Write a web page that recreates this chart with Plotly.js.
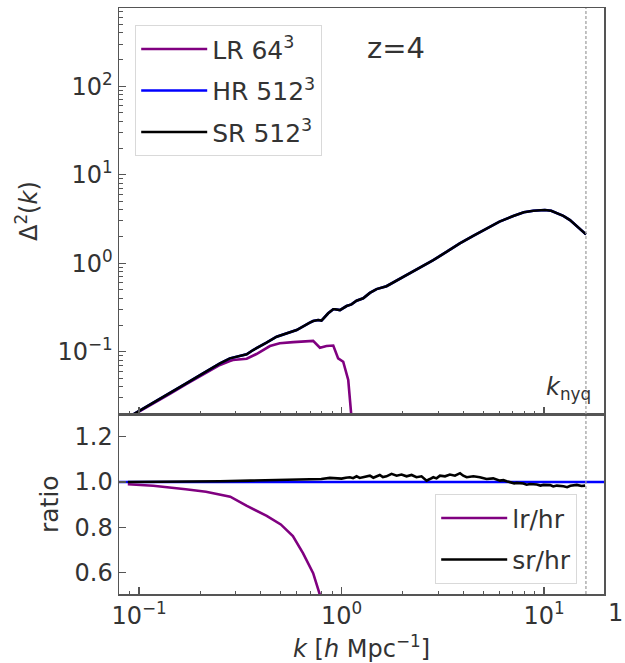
<!DOCTYPE html>
<html>
<head>
<meta charset="utf-8">
<script src="https://cdn.plot.ly/plotly-3.0.1.min.js"></script>
<style>html,body{margin:0;padding:0;background:#fff;}#chart{width:625px;height:663px;}</style>
</head>
<body>
<div id="chart"></div>
<script>
// ---------- data ----------
const kNyq = 16.1;

// top panel: Delta^2(k)
const kHR  = [0.088, 0.099, 0.1175, 0.142, 0.171, 0.207, 0.251, 0.281, 0.316, 0.340, 0.366, 0.394, 0.426, 0.478, 0.577, 0.600, 0.697, 0.724, 0.766, 0.796, 0.859, 0.910, 0.927, 0.982, 1.059, 1.119, 1.186, 1.279, 1.380, 1.489, 1.667, 1.820, 2.094, 2.455, 2.838, 3.311, 3.837, 4.467, 5.200, 6.026, 7.047, 7.943, 8.851, 10.09, 10.84, 11.53, 12.45, 13.43, 14.62, 16.11];
const d2HR = [0.0180, 0.0210, 0.0264, 0.0339, 0.0439, 0.0570, 0.0740, 0.0841, 0.0902, 0.0933, 0.1045, 0.1140, 0.1265, 0.1479, 0.1730, 0.1758, 0.2128, 0.2223, 0.2280, 0.2244, 0.2716, 0.3013, 0.3013, 0.2951, 0.3281, 0.3428, 0.3767, 0.4009, 0.4620, 0.5100, 0.5500, 0.6166, 0.7362, 0.8913, 1.086, 1.349, 1.679, 2.042, 2.477, 2.951, 3.412, 3.758, 3.917, 3.990, 3.917, 3.724, 3.428, 3.076, 2.600, 2.118];
const kSR  = kHR.slice();
const d2SR = [0.0180, 0.0210, 0.0264, 0.0339, 0.0439, 0.0570, 0.0740, 0.0841, 0.0902, 0.0933, 0.1045, 0.1140, 0.1265, 0.1479, 0.1730, 0.1758, 0.2128, 0.2223, 0.2280, 0.2244, 0.2716, 0.3013, 0.3013, 0.2951, 0.3281, 0.3428, 0.3767, 0.4009, 0.4620, 0.5100, 0.5500, 0.6166, 0.7362, 0.8913, 1.086, 1.349, 1.679, 2.042, 2.477, 2.951, 3.412, 3.758, 3.917, 3.990, 3.917, 3.724, 3.428, 3.076, 2.600, 2.118];
const kLR  = [0.088, 0.099, 0.1175, 0.142, 0.171, 0.207, 0.251, 0.281, 0.291, 0.340, 0.380, 0.443, 0.495, 0.577, 0.670, 0.724, 0.782, 0.843, 0.910, 0.962, 1.019, 1.079, 1.175];
const d2LR = [0.0178, 0.0207, 0.0260, 0.0333, 0.0429, 0.0552, 0.0708, 0.0785, 0.0805, 0.0832, 0.0942, 0.1159, 0.1245, 0.1282, 0.1318, 0.1327, 0.1109, 0.1159, 0.1175, 0.0841, 0.0771, 0.0479, 0.0050];

// bottom panel: ratios
const kLRratio = [0.088, 0.1175, 0.170, 0.214, 0.282, 0.339, 0.427, 0.501, 0.575, 0.646, 0.724, 0.782, 0.832];
const lrOverHr = [0.990, 0.983, 0.968, 0.957, 0.935, 0.895, 0.850, 0.812, 0.760, 0.684, 0.596, 0.500, 0.350];
const kSRratio = [0.088, 0.126, 0.178, 0.251, 0.355, 0.501, 0.631, 0.794, 0.875, 1.000, 1.050, 1.099, 1.140, 1.186, 1.230, 1.279, 1.330, 1.380, 1.435, 1.490, 1.545, 1.600, 1.667, 1.766, 1.871, 1.977, 2.094, 2.218, 2.344, 2.483, 2.630, 2.729, 2.838, 2.944, 3.062, 3.243, 3.428, 3.631, 3.846, 3.990, 4.150, 4.477, 4.819, 5.200, 5.610, 6.053, 6.300, 6.531, 6.918, 7.120, 7.328, 7.907, 8.200, 8.531, 9.204, 9.600, 9.931, 10.72, 11.10, 11.56, 12.47, 13.00, 13.49, 14.52, 15.31, 15.96];
const srOverHr = [1.000, 1.000, 1.001, 1.003, 1.006, 1.010, 1.012, 1.013, 1.018, 1.015, 1.019, 1.021, 1.017, 1.025, 1.018, 1.021, 1.026, 1.028, 1.019, 1.024, 1.031, 1.022, 1.025, 1.036, 1.028, 1.033, 1.025, 1.031, 1.021, 1.025, 1.006, 1.013, 1.021, 1.016, 1.028, 1.025, 1.033, 1.028, 1.039, 1.028, 1.021, 1.025, 1.021, 1.013, 1.016, 1.006, 1.008, 1.003, 0.999, 0.994, 0.996, 0.993, 0.988, 0.991, 0.989, 0.984, 0.987, 0.986, 0.980, 0.984, 0.981, 0.977, 0.983, 0.987, 0.982, 0.984];
const hrOverHr = 1.0;

// tick labels
const xTickVals = [0.1, 1, 10];
const xTickText = ['10<sup>\u22121</sup>', '10<sup>0</sup>', '10<sup>1</sup>'];
const yTickVals = [0.1, 1, 10, 100];
const yTickText = ['10<sup>\u22121</sup>', '10<sup>0</sup>', '10<sup>1</sup>', '10<sup>2</sup>'];
const rTickVals = [0.6, 0.8, 1.0, 1.2];
const rTickText = ['0.6', '0.8', '1.0', '1.2'];

// ---------- styling ----------
const FONT = 'DejaVu Sans, sans-serif';
const TXT = '#333333';
const AX = '#555555';
const LW = 2.6;
function minorLog(lo, hi) { const v = []; for (let d = lo; d <= hi; d++) for (let m = 2; m <= 9; m++) v.push(m * Math.pow(10, d)); return v; }
const xRange = [-1.099, 1.296];
const split = 180 / 586;

const traces = [
  {x: kLR, y: d2LR, xaxis: 'x', yaxis: 'y', mode: 'lines', name: 'LR 64<sup>3</sup>', line: {color: 'purple', width: LW}, legendgroup: 'a'},
  {x: kHR, y: d2HR, xaxis: 'x', yaxis: 'y', mode: 'lines', name: 'HR 512<sup>3</sup>', line: {color: 'blue', width: LW}, legendgroup: 'b'},
  {x: kSR, y: d2SR, xaxis: 'x', yaxis: 'y', mode: 'lines', name: 'SR 512<sup>3</sup>', line: {color: 'black', width: LW}, legendgroup: 'c'},
  {x: kLRratio, y: lrOverHr, xaxis: 'x2', yaxis: 'y2', mode: 'lines', name: 'lr/hr', line: {color: 'purple', width: LW}, legend: 'legend2', legendgroup: 'd'},
  {x: kSRratio, y: srOverHr, xaxis: 'x2', yaxis: 'y2', mode: 'lines', name: 'sr/hr', line: {color: 'black', width: LW}, legend: 'legend2', legendgroup: 'e'}
];

const axCommon = {showline: true, mirror: true, linecolor: AX, linewidth: 1.5, showgrid: false, zeroline: false,
  ticks: 'inside', tickcolor: AX, tickwidth: 1.2, ticklen: 7, tickfont: {family: FONT, size: 24, color: TXT}};

const legendCommon = {xanchor: 'left', yanchor: 'top',
  font: {family: FONT, size: 25, color: TXT}, bgcolor: 'rgba(255,255,255,0.85)',
  bordercolor: '#d9d9d9', borderwidth: 1.2, tracegroupgap: 6, itemwidth: 66};

const layout = {
  width: 625, height: 663,
  margin: {l: 119, r: 21, t: 8, b: 69, pad: 0},
  paper_bgcolor: '#ffffff', plot_bgcolor: '#ffffff',
  font: {family: FONT, size: 24, color: TXT},
  showlegend: true,
  xaxis: Object.assign({}, axCommon, {type: 'log', range: xRange, anchor: 'y', showticklabels: false,
    tickmode: 'array', tickvals: xTickVals,
    minor: {tickmode: 'array', tickvals: minorLog(-2, 1), ticks: 'inside', ticklen: 3.5, tickcolor: AX, tickwidth: 1}}),
  xaxis2: Object.assign({}, axCommon, {type: 'log', range: xRange, anchor: 'y2',
    tickmode: 'array', tickvals: xTickVals, ticktext: xTickText,
    minor: {tickmode: 'array', tickvals: minorLog(-2, 1), ticks: 'inside', ticklen: 3.5, tickcolor: AX, tickwidth: 1}}),
  yaxis: Object.assign({}, axCommon, {type: 'log', domain: [split, 1], range: [-1.704, 2.884], anchor: 'x',
    tickmode: 'array', tickvals: yTickVals, ticktext: yTickText,
    minor: {tickmode: 'array', tickvals: minorLog(-2, 2), ticks: 'inside', ticklen: 3.5, tickcolor: AX, tickwidth: 1}}),
  yaxis2: Object.assign({}, axCommon, {domain: [0, split], range: [0.504, 1.301], anchor: 'x2',
    tickmode: 'array', tickvals: rTickVals, ticktext: rTickText}),
  legend: Object.assign({}, legendCommon, {x: 16 / 485, y: (594 - 25) / 586}),
  legend2: Object.assign({}, legendCommon, {x: (435 - 119) / 485, y: (594 - 494) / 586}),
  shapes: [
    {type: 'line', xref: 'paper', yref: 'y2', x0: 0, x1: 1, y0: hrOverHr, y1: hrOverHr, layer: 'below',
      line: {color: 'blue', width: LW}},
    {type: 'line', xref: 'x', yref: 'paper', x0: kNyq, x1: kNyq, y0: 0, y1: 1,
      line: {color: '#9a9a9a', width: 1.2, dash: '3px,2px'}}
  ],
  annotations: [
    {text: 'z=4', xref: 'paper', yref: 'paper', x: (396 - 119) / 485, y: (594 - 48) / 586, xanchor: 'center', yanchor: 'middle',
      showarrow: false, font: {family: FONT, size: 29, color: TXT}},
    {text: '<i>k</i><sub>nyq</sub>', xref: 'x', yref: 'paper', x: Math.log10(kNyq), y: split, xanchor: 'right', yanchor: 'bottom',
      xshift: 7, yshift: 8, showarrow: false, font: {family: FONT, size: 24, color: TXT}},
    {text: '\u0394<sup>2</sup>(<i>k</i>)', xref: 'paper', yref: 'paper', x: (27 - 119) / 485, y: (594 - 211) / 586, textangle: -90,
      xanchor: 'center', yanchor: 'middle', showarrow: false, font: {family: FONT, size: 24, color: TXT}},
    {text: 'ratio', xref: 'paper', yref: 'paper', x: (50 - 119) / 485, y: (594 - 504) / 586, textangle: -90,
      xanchor: 'center', yanchor: 'middle', showarrow: false, font: {family: FONT, size: 25, color: TXT}},
    {text: '<i>k</i> [<i>h</i> Mpc<sup>\u22121</sup>]', xref: 'paper', yref: 'paper', x: 0.5, y: (594 - 647) / 586,
      xanchor: 'center', yanchor: 'middle', showarrow: false, font: {family: FONT, size: 24, color: TXT}},
    {text: '1', xref: 'paper', yref: 'paper', x: (625 - 119) / 485, y: (594 - 613) / 586,
      xanchor: 'right', yanchor: 'middle', showarrow: false, font: {family: FONT, size: 24, color: TXT}}
  ]
};

Plotly.newPlot('chart', traces, layout, {staticPlot: true, displayModeBar: false});
</script>
</body>
</html>
